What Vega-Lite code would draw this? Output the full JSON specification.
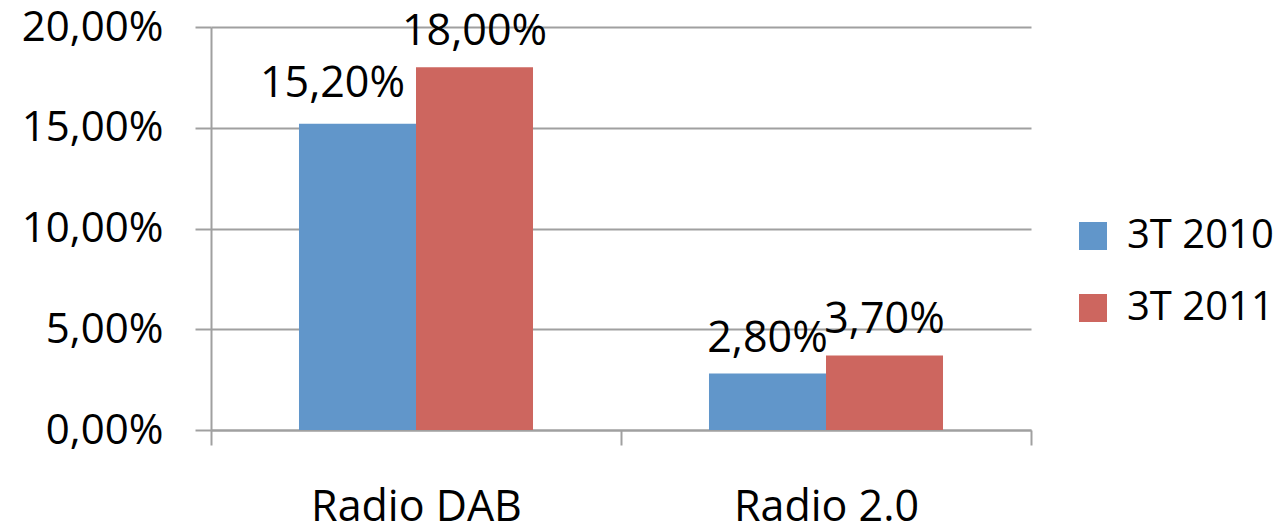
{
  "$schema": "https://vega.github.io/schema/vega-lite/v6.json",
  "width": 820,
  "height": 403,
  "autosize": "none",
  "padding": {"left": 211, "top": 27, "right": 255, "bottom": 99},
  "background": "white",
  "data": {
    "values": [
      {"category": "Radio DAB", "series": "3T 2010", "value": 0.152},
      {"category": "Radio DAB", "series": "3T 2011", "value": 0.18},
      {"category": "Radio 2.0", "series": "3T 2010", "value": 0.028},
      {"category": "Radio 2.0", "series": "3T 2011", "value": 0.037}
    ]
  },
  "encoding": {
    "x": {
      "field": "category",
      "type": "nominal",
      "sort": ["Radio DAB", "Radio 2.0"],
      "scale": {"paddingInner": 0, "paddingOuter": 0},
      "axis": {
        "title": null,
        "labelAngle": 0,
        "labelFont": "Open Sans",
        "labelFontSize": 43,
        "labelColor": "#000000",
        "labelPadding": 41,
        "labelLimit": 0,
        "tickBand": "extent",
        "tickSize": 15,
        "tickColor": "#a0a0a0",
        "tickWidth": 2,
        "domainColor": "#a0a0a0",
        "domainWidth": 2,
        "grid": false
      }
    },
    "xOffset": {
      "field": "series",
      "type": "nominal",
      "scale": {"paddingInner": 0, "paddingOuter": 0.752}
    },
    "y": {
      "field": "value",
      "type": "quantitative",
      "scale": {"domain": [0, 0.2], "nice": false},
      "axis": {
        "title": null,
        "values": [0, 0.05, 0.1, 0.15, 0.2],
        "format": ".2%",
        "labelFont": "Open Sans",
        "labelFontSize": 42,
        "labelColor": "#000000",
        "labelPadding": 32,
        "tickSize": 16,
        "tickColor": "#a0a0a0",
        "tickWidth": 2,
        "domainColor": "#a0a0a0",
        "domainWidth": 2,
        "gridColor": "#a0a0a0",
        "gridWidth": 2
      }
    }
  },
  "layer": [
    {
      "mark": {"type": "bar"},
      "encoding": {
        "color": {
          "field": "series",
          "type": "nominal",
          "scale": {"domain": ["3T 2010", "3T 2011"], "range": ["#6196CA", "#CD665F"]},
          "legend": {
            "title": null,
            "orient": "none",
            "legendX": 862,
            "legendY": 189,
            "symbolType": "square",
            "symbolSize": 784,
            "symbolStrokeWidth": 0,
            "labelFont": "Open Sans",
            "labelFontSize": 40,
            "labelColor": "#000000",
            "labelOffset": 14,
            "labelLimit": 0,
            "rowPadding": 32
          }
        }
      }
    },
    {
      "transform": [{"filter": "!(datum.category === 'Radio DAB' && datum.series === '3T 2010')"}],
      "mark": {"type": "text", "font": "Open Sans", "fontSize": 43, "color": "#000000", "baseline": "alphabetic", "dy": -22},
      "encoding": {
        "text": {"field": "value", "type": "quantitative", "format": ".2%"}
      }
    },
    {
      "transform": [{"filter": "datum.category === 'Radio DAB' && datum.series === '3T 2010'"}],
      "mark": {"type": "text", "font": "Open Sans", "fontSize": 43, "color": "#000000", "baseline": "alphabetic", "dy": -27, "dx": -25},
      "encoding": {
        "text": {"field": "value", "type": "quantitative", "format": ".2%"}
      }
    }
  ],
  "config": {
    "view": {"stroke": null},
    "locale": {
      "number": {"decimal": ",", "thousands": ".", "grouping": [3], "currency": ["", " €"]}
    }
  }
}
